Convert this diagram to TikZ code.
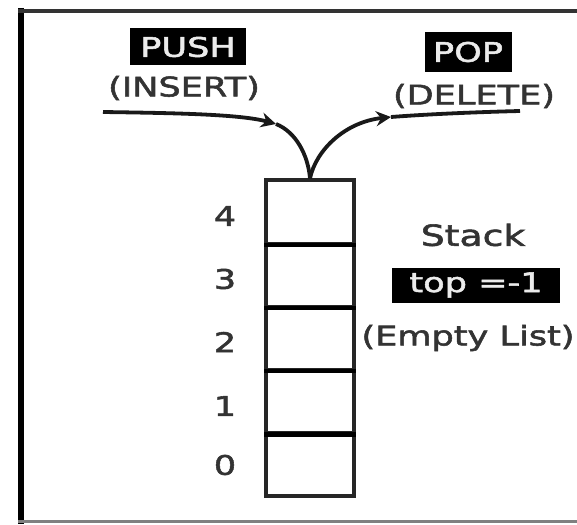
\documentclass[tikz,border=0pt]{standalone}
\usepackage{fontspec}
\setmainfont{DejaVu Sans}[FakeStretch=1.3,FakeBold=2]
\usetikzlibrary{arrows.meta}
\begin{document}
\begin{tikzpicture}[x=1pt,y=-1pt,
  lbl/.style={font=\fontsize{27}{30}\selectfont, text=black!80, inner sep=0pt},
  tag/.style={lbl, fill=black, text=white!92!black},
  cell/.style={draw=black!85, line width=3.2pt, minimum width=88pt, minimum height=63.2pt, inner sep=0pt},
  divider/.style={line width=4.5pt},
  flow/.style={line width=3.8pt, black!90},
  tipped/.style={-{Stealth[length=15pt,width=15pt,inset=5pt]}}]
\useasboundingbox (0,0) rectangle (577,524);

% outer frame (open on the right)
\draw[line width=6pt] (21,8) -- (21,524);
\draw[line width=3.5pt, black!80] (18,11) -- (577,11);
\draw[line width=3pt, black!50] (18,521) -- (577,521);

% stack cells
\node[cell] (c4) at (310,211.6) {};
\node[cell] (c3) at (310,274.8) {};
\node[cell] (c2) at (310,338.0) {};
\node[cell] (c1) at (310,401.2) {};
\node[cell] (c0) at (310,464.4) {};
\foreach \a in {c4,c3,c2,c1}
  \draw[divider] (\a.south west) -- (\a.south east);

% index labels
\node[lbl] (i4) at (225,216) {4};
\node[lbl] (i3) at (225,279) {3};
\node[lbl] (i2) at (225,342) {2};
\node[lbl] (i1) at (225,406) {1};
\node[lbl] (i0) at (225,465) {0};

% operation labels
\node[tag, minimum width=116pt, minimum height=37pt] (push) at (188,47) {PUSH};
\node[lbl] (insert) at (184,88) {(INSERT)};
\node[tag, minimum width=87pt, minimum height=40pt] (pop) at (468,52) {POP};
\node[lbl] (delete) at (474,96) {(DELETE)};

% stack state
\node[lbl, font=\fontsize{29}{32}\selectfont] (stacklbl) at (473,235) {Stack};
\node[tag, minimum width=168pt, minimum height=35pt] (toplbl) at (476,285) {top =-1};
\node[lbl] (empty) at (468,338) {(Empty List)};

% push / pop arrows
\coordinate (pushstart) at (103,112);
\coordinate (pushtip) at (276,124);
\coordinate (poptip) at (391,117);
\coordinate (popend) at (520,111);
\draw[flow, tipped] (pushstart) .. controls (170,113) and (240,114) .. (pushtip);
\draw[flow] (pushtip) .. controls (296,132) and (308,155) .. (c4.north);
\draw[flow, tipped] (c4.north) .. controls (316,150) and (345,122) .. (poptip);
\draw[flow] (poptip) .. controls (430,114) and (480,112) .. (popend);
\end{tikzpicture}
\end{document}
